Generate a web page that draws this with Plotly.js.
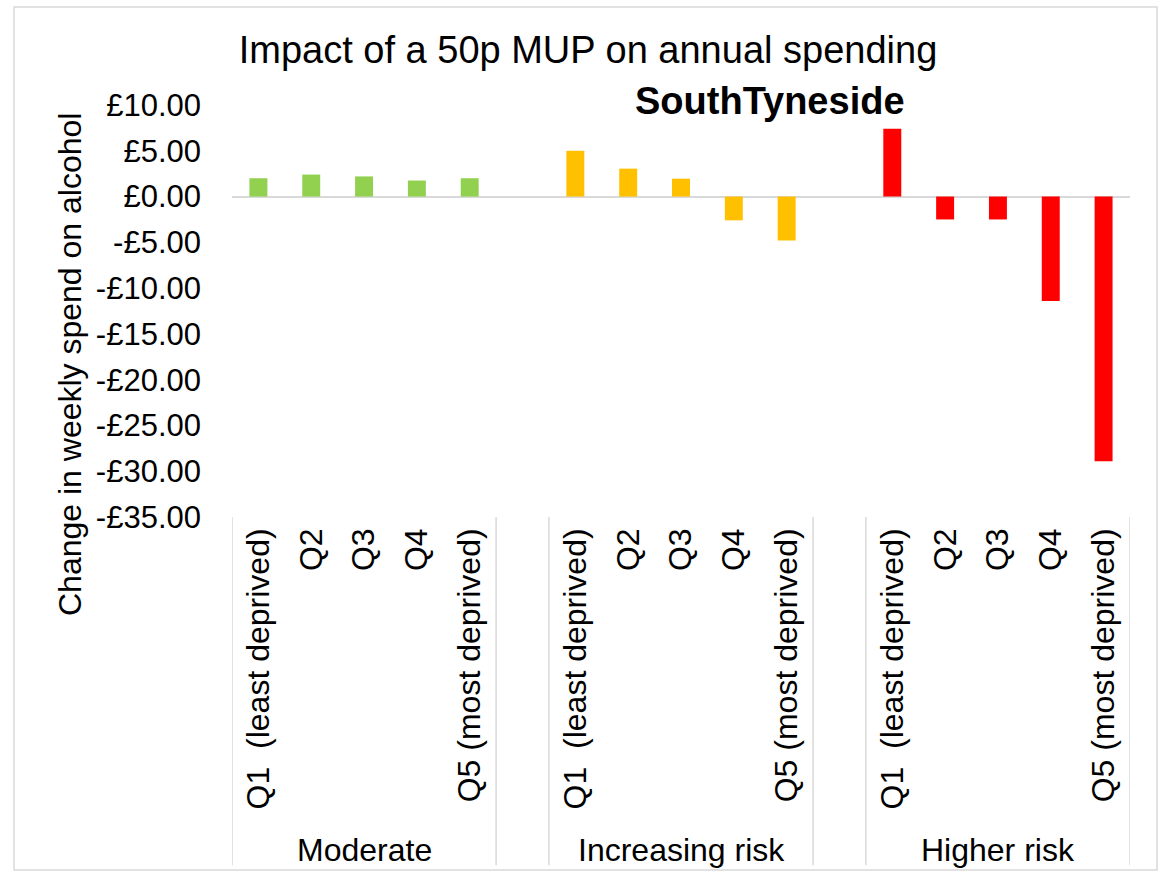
<!DOCTYPE html>
<html>
<head>
<meta charset="utf-8">
<script src="https://cdn.plot.ly/plotly-3.0.1.min.js"></script>
<style>html,body{margin:0;padding:0;background:#fff;}#chart{width:1161px;height:877px;}</style>
</head>
<body>
<div id="chart"></div>
<script>
const groups = ['Moderate', 'Increasing risk', 'Higher risk'];
const categories = ['Q1  (least deprived)', 'Q2', 'Q3', 'Q4', 'Q5 (most deprived)'];
const moderate = [2.0, 2.4, 2.2, 1.75, 2.0];
const increasingRisk = [5.0, 3.05, 1.95, -2.6, -4.8];
const higherRisk = [7.4, -2.5, -2.5, -11.4, -28.9];
const colours = ['#92d050', '#ffc000', '#ff0000'];
const yTicks = [10, 5, 0, -5, -10, -15, -20, -25, -30, -35];

const seriesValues = [moderate, increasingRisk, higherRisk];
const slot = categories.length + 1;
const FONT = 'Liberation Sans, Arial, sans-serif';

const traces = seriesValues.map((vals, g) => ({
  type: 'bar',
  x: categories.map((c, i) => g * slot + i),
  y: vals,
  marker: {color: colours[g]},
  width: 0.34,
  name: groups[g],
  hoverinfo: 'y'
}));

const tickvals = [], ticktext = [];
groups.forEach((gname, g) => categories.forEach((c, i) => { tickvals.push(g * slot + i); ticktext.push(c); }));

const fmt = v => (v < 0 ? '-£' : '£') + Math.abs(v).toFixed(2);

const shapes = [];
groups.forEach((gname, g) => {
  [g * slot - 0.5, g * slot + categories.length - 0.5].forEach(xv => {
    shapes.push({type: 'line', xref: 'x', yref: 'paper', x0: xv, x1: xv, y0: 0, y1: -0.845,
      line: {color: '#d9d9d9', width: 1.5}});
  });
});
// outer chart border
shapes.push({type: 'rect', xref: 'paper', yref: 'paper',
  x0: (14 - 232) / 898, x1: (1157 - 232) / 898, y0: (517 - 870) / 412, y1: (517 - 7) / 412,
  line: {color: '#d9d9d9', width: 1.5}});

const annotations = groups.map((gname, g) => ({
  text: gname, xref: 'x', yref: 'paper', x: g * slot + (categories.length - 1) / 2, y: -0.808,
  showarrow: false, xanchor: 'center', yanchor: 'middle', font: {family: FONT, size: 32, color: '#000'}
}));
annotations.push({
  text: '<b>SouthTyneside</b>', xref: 'paper', yref: 'paper', x: (770 - 232) / 898, y: (517 - 101) / 412,
  showarrow: false, xanchor: 'center', yanchor: 'middle', font: {family: FONT, size: 38, color: '#000'}
});
annotations.push({
  text: 'Change in weekly spend on alcohol', xref: 'paper', yref: 'paper', x: (70 - 232) / 898, y: (517 - 365) / 412,
  textangle: -90, showarrow: false, xanchor: 'center', yanchor: 'middle', font: {family: FONT, size: 32, color: '#000'}
});

const layout = {
  width: 1161, height: 877,
  margin: {l: 232, r: 31, t: 105, b: 360},
  paper_bgcolor: '#fff', plot_bgcolor: '#fff',
  showlegend: false,
  font: {family: FONT, size: 31, color: '#000'},
  title: {text: 'Impact of a 50p MUP on annual spending', xref: 'container', yref: 'container',
    x: 588 / 1161, y: 1 - 50 / 877, xanchor: 'center', yanchor: 'middle', font: {family: FONT, size: 38, color: '#000'}},
  xaxis: {range: [-0.5, groups.length * slot - 1.5], tickvals: tickvals, ticktext: ticktext, tickangle: -90,
    showgrid: false, zeroline: false, showline: false, ticks: '', ticklabelstandoff: 4,
    tickfont: {family: FONT, size: 32, color: '#000'}},
  yaxis: {range: [-35, 10], tickvals: yTicks, ticktext: yTicks.map(fmt), showgrid: false,
    zeroline: true, zerolinecolor: '#d9d9d9', zerolinewidth: 2, showline: false, ticks: '', ticklabelstandoff: 30,
    tickfont: {family: FONT, size: 31, color: '#000'}},
  shapes: shapes,
  annotations: annotations
};

Plotly.newPlot('chart', traces, layout, {displayModeBar: false, staticPlot: true});
</script>
</body>
</html>
